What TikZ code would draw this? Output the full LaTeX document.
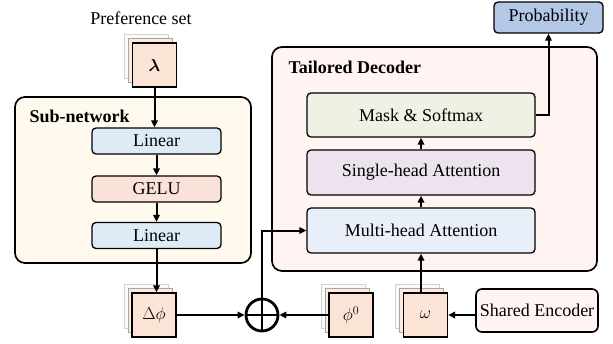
\documentclass[tikz,border=0pt]{standalone}
\usepackage{amsmath,bm}
\usepackage{fontspec}
\setmainfont{Liberation Serif}
\usetikzlibrary{arrows.meta,calc}
\definecolor{subfill}{HTML}{FFF9EE}
\definecolor{decfill}{HTML}{FFF4F2}
\definecolor{linfill}{HTML}{DDEBF7}
\definecolor{gelufill}{HTML}{FBE2D8}
\definecolor{peach}{HTML}{FBE3D6}
\definecolor{maskfill}{HTML}{EEF1E3}
\definecolor{shafill}{HTML}{EDE3EF}
\definecolor{mhafill}{HTML}{E9EFF8}
\definecolor{probfill}{HTML}{B4C7E7}
\definecolor{encfill}{HTML}{FFF4F2}
\newcommand\mystack[4]{%
  \draw[draw=gray!35, fill=gray!4, line width=0.8pt] (#2-30,#3-31) rectangle (#2+14,#3+13);
  \draw[draw=gray!70, fill=peach!70, line width=0.9pt] (#2-26,#3-27) rectangle (#2+18,#3+17);
  \node[stackbox] (#1) at (#2,#3) {#4};
}
\begin{document}
\begin{tikzpicture}[x=1pt,y=-1pt,
  font=\fontsize{18}{21}\selectfont,
  container/.style={draw=black, line width=1.7pt, rounded corners=10pt},
  blk/.style={draw=black, line width=1.3pt, rounded corners=4pt, inner sep=0pt},
  stackbox/.style={draw=black, line width=1.4pt, fill=peach, minimum width=44pt, minimum height=44pt, inner sep=0pt},
  conn/.style={line width=2pt, -{Triangle[length=7pt,width=6.5pt]}},
  plain/.style={line width=2pt}
]
\useasboundingbox (0,0) rectangle (613,343);

% containers
\draw[container, fill=subfill] (15,97) rectangle (251,263);
\node[anchor=west, font=\fontsize{18}{21}\selectfont\bfseries] (subtitle) at (26,116) {Sub-network};
\draw[container, fill=decfill] (272,47) rectangle (597,271);
\node[anchor=west, font=\fontsize{18}{21}\selectfont\bfseries] (dectitle) at (285,67) {Tailored Decoder};

% label
\node (prefset) at (141,18) {Preference set};

% stacks
\mystack{lam}{154.5}{65}{$\bm{\lambda}$}
\mystack{dphi}{154}{315}{$\Delta\phi$}
\mystack{phi0}{351}{315}{$\phi^0$}
\mystack{omega}{425.5}{315}{$\omega$}

% sub-network blocks
\node[blk, fill=linfill, minimum width=129pt, minimum height=26pt] (lin1) at (156.5,141) {Linear};
\node[blk, fill=gelufill, minimum width=129pt, minimum height=26pt] (gelu) at (156.5,189) {GELU};
\node[blk, fill=linfill, minimum width=129pt, minimum height=26pt] (lin2) at (156.5,235.5) {Linear};

% decoder blocks
\node[blk, fill=maskfill, minimum width=228pt, minimum height=44pt] (mask) at (421,115) {Mask \& Softmax};
\node[blk, fill=shafill, minimum width=228pt, minimum height=45pt] (sha) at (421,172.5) {Single-head Attention};
\node[blk, fill=mhafill, minimum width=228pt, minimum height=45pt] (mha) at (421,230.5) {Multi-head Attention};

% others
\node[blk, fill=probfill, minimum width=109pt, minimum height=31pt] (prob) at (548.5,17.5) {Probability};
\node[blk, fill=encfill, line width=1.6pt, rounded corners=6pt, minimum width=122pt, minimum height=43pt] (enc) at (537,310.5) {Shared Encoder};

% oplus
\node[circle, draw=black, line width=2.8pt, minimum size=32pt, inner sep=0pt] (oplus) at (262,315) {};
\draw[line width=2.8pt] (oplus.north) -- (oplus.south);
\draw[line width=2.8pt] (oplus.west) -- (oplus.east);

% connectors
\draw[conn] (lam.south) -- (lam.south |- lin1.north);
\draw[conn] (lin1.south) -- (gelu.north);
\draw[conn] (gelu.south) -- (lin2.north);
\draw[conn] (lin2.south) -- (lin2.south |- dphi.north);
\draw[conn] (dphi.east) -- (oplus.west);
\draw[conn] (phi0.west) -- (oplus.east);
\draw[conn] (oplus.north) |- (mha.west);
\draw[conn] (enc.west |- omega.east) -- (omega.east);
\draw[conn] (mha.south |- omega.north) -- (mha.south);
\draw[conn] (mha.north) -- (sha.south);
\draw[conn] (sha.north) -- (mask.south);
\draw[conn] (mask.east) -| (prob.south);
\end{tikzpicture}
\end{document}
